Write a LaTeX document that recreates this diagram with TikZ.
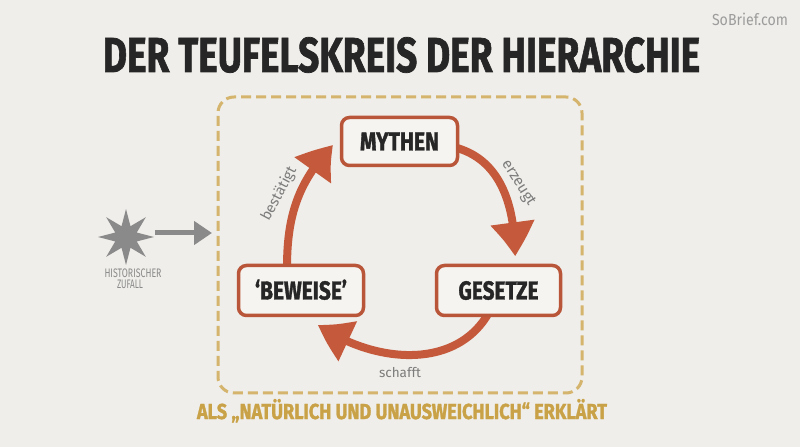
\documentclass[tikz,border=0pt]{standalone}
\usepackage{graphicx}
\usepackage{fontspec}
\setmainfont{Fira Sans}[BoldFeatures={FakeBold=1.5}]
\usetikzlibrary{arrows.meta,bending,shapes.geometric}
\pgfdeclarelayer{background}
\pgfsetlayers{background,main}
\definecolor{bg}{HTML}{EFEEEA}
\definecolor{rust}{HTML}{C45A3B}
\definecolor{rustdark}{HTML}{B9563A}
\definecolor{boxfill}{HTML}{F6F4F0}
\definecolor{gold}{HTML}{D5B56D}
\definecolor{goldtext}{HTML}{C9A146}
\definecolor{ink}{HTML}{262626}
\definecolor{stargrey}{HTML}{8A8A8A}
\definecolor{lblgrey}{HTML}{7C7C7C}
\definecolor{wm}{HTML}{9C9C9C}
\newcommand{\fitcap}[3]{\resizebox{#1}{#2}{\smash{#3}\vphantom{H}}}
\begin{document}
\begin{tikzpicture}[x=1pt,y=1pt,
  box/.style={draw=rustdark, line width=3.5pt, fill=boxfill, rounded corners=8pt, inner sep=0pt, font=\bfseries, text=ink},
  cyc/.style={draw=rust, line width=8pt, -{Triangle[length=34pt,width=42pt,bend]}},
  lbl/.style={text=lblgrey, inner sep=0pt, font=\fontsize{14}{14}\selectfont},
  frame/.style={draw=gold, line width=3pt, dash pattern=on 10pt off 5pt, rounded corners=16pt, inner sep=0pt},
  greyarrow/.style={draw=stargrey, line width=5pt, -{Triangle[length=18pt,width=23pt]}}]
\begin{pgfonlayer}{background}
\fill[bg] (0,0) rectangle (800,447);
\end{pgfonlayer}
\useasboundingbox (0,0) rectangle (800,447);

% watermark and title
\node[text=wm, inner sep=0pt] (brand) at (750,426.5) {\fitcap{76pt}{11pt}{SoBrief.com}};
\node[text=ink, font=\bfseries, inner sep=0pt] (title) at (401.5,392) {\fitcap{597pt}{34pt}{DER TEUFELSKREIS DER HIERARCHIE}};

% frame
\node[frame, minimum width=364pt, minimum height=296pt] (frame) at (400,202) {};

% cycle nodes
\node[box, minimum width=116pt, minimum height=48pt] (mythen) at (399.5,305.5) {\fitcap{79pt}{18pt}{MYTHEN}};
\node[box, minimum width=125pt, minimum height=50pt] (beweise) at (301,156.5) {\fitcap{92pt}{18pt}{‘BEWEISE’}};
\node[box, minimum width=124pt, minimum height=50pt] (gesetze) at (498.5,156.5) {\fitcap{80pt}{18pt}{GESETZE}};

\begin{pgfonlayer}{background}
\draw[cyc] ([xshift=-4pt,yshift=-6pt]mythen.east) to[out=-15,in=90] ([xshift=16.5pt,yshift=7.5pt]gesetze.north);
\draw[cyc] ([xshift=-10pt,yshift=4pt]gesetze.south) to[out=-120,in=-35] ([xshift=17pt,yshift=-7.5pt]beweise.south);
\draw[cyc] ([xshift=-14pt,yshift=-4pt]beweise.north) to[out=90,in=-134] ([xshift=-6.5pt,yshift=-3.5pt]mythen.west);
\end{pgfonlayer}

% connector labels
\node[lbl, rotate=-58] (lerz) at (518,264) {\resizebox{51pt}{!}{erzeugt}};
\node[lbl, rotate=62] (lbest) at (279,253) {\resizebox{59pt}{!}{bestätigt}};
\node[lbl] (lsch) at (400,74) {\resizebox{42pt}{!}{schafft}};

% caption
\node[text=goldtext, font=\bfseries, inner sep=0pt] (caption) at (402,35.5) {\fitcap{410pt}{15pt}{ALS „NATÜRLICH UND UNAUSWEICHLICH“ ERKLÄRT}};

% historical accident
\node[star, star points=8, star point ratio=2.4, fill=stargrey, minimum size=56pt, inner sep=0pt] (zufall) at (126,210) {};
\coordinate (zin) at (212,214);
\draw[greyarrow] (zufall.east |- zin) -- (zin);
\node[text=stargrey, inner sep=0pt] (hist) at (133,174) {\fitcap{57pt}{8.5pt}{HISTORISCHER}};
\node[text=stargrey, inner sep=0pt] (zuf) at (130,162.5) {\fitcap{26pt}{8.5pt}{ZUFALL}};
\end{tikzpicture}
\end{document}
